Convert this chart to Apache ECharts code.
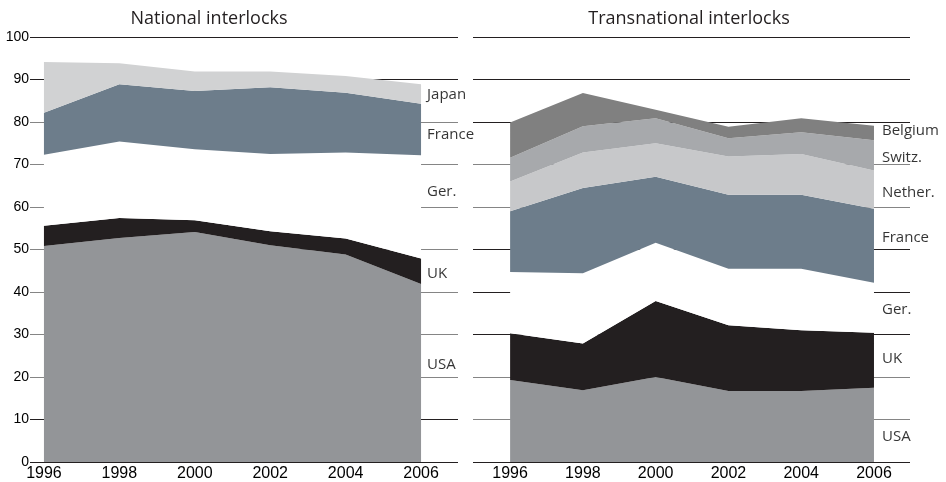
<!DOCTYPE html>
<html><head><meta charset="utf-8">
<script src="https://cdn.jsdelivr.net/npm/echarts@6/dist/echarts.min.js"></script>
<style>html,body{margin:0;padding:0;background:#fff}#c{width:946px;height:482px}</style>
</head><body><div id="c"></div>
<script>
// ---- data ----
const years = [1996, 1998, 2000, 2002, 2004, 2006];
const yTicks = [0, 10, 20, 30, 40, 50, 60, 70, 80, 90, 100];

// National interlocks (stacked, bottom to top)
const natNames = ['USA', 'UK', 'Ger.', 'France', 'Japan'];
const natUSA    = [50.8, 52.7, 54.1, 51.0, 48.8, 41.9];
const natUK     = [4.8, 4.7, 2.8, 3.3, 3.8, 6.0];
const natGer    = [16.7, 18.0, 16.7, 18.2, 20.2, 24.3];
const natFrance = [9.9, 13.5, 13.7, 15.7, 14.1, 12.1];
const natJapan  = [11.9, 4.9, 4.6, 3.7, 3.9, 4.6];
const natLabelAt = [23, 44.4, 63.6, 77, 86.4];

// Transnational interlocks (stacked, bottom to top)
const trNames = ['USA', 'UK', 'Ger.', 'France', 'Nether.', 'Switz.', 'Belgium'];
const trUSA     = [19.3, 16.9, 20.0, 16.7, 16.7, 17.5];
const trUK      = [11.0, 11.0, 17.9, 15.5, 14.3, 12.9];
const trGer     = [14.4, 16.5, 13.7, 13.3, 14.5, 11.8];
const trFrance  = [14.3, 20.1, 15.5, 17.4, 17.4, 17.4];
const trNether  = [7.0, 8.3, 7.9, 9.0, 9.6, 9.0];
const trSwitz   = [5.6, 6.2, 5.9, 4.3, 5.1, 7.1];
const trBelgium = [8.3, 7.8, 2.0, 2.7, 3.3, 3.4];
const trLabelAt = [5.9, 24.4, 35.9, 52.8, 63.4, 71.6, 77.9];

// ---- style ----
const C = {USA:'#939598', UK:'#231f20', 'Ger.':'#ffffff', France:'#6d7d8b', Japan:'#d1d2d3',
           'Nether.':'#c7c8ca', 'Switz.':'#a7a9ac', Belgium:'#808080'};
const K = '#231f20', G = '#858585';
const natLineColors = [K, K, G, G, G, G, G, G, G, K, K];
const trLineColors  = [K, G, G, K, K, K, G, G, K, K, K];
const tickFont = 'Liberation Sans, Arial, sans-serif';
const textFont = 'Open Sans, Noto Sans, sans-serif';

const chart = echarts.init(document.getElementById('c'));

function areaSeries(names, arrays, idx, stack) {
  return names.map((n, k) => ({
    type: 'line', name: n, stack: stack, xAxisIndex: idx, yAxisIndex: idx,
    symbol: 'none', silent: true,
    encode: {x: 1, y: 0},
    lineStyle: {width: 0}, areaStyle: {color: C[n], opacity: 1},
    data: years.map((y, i) => [arrays[k][i], y])
  }));
}
function labelSeries(names, at, idx, dist) {
  return {
    type: 'scatter', xAxisIndex: idx, yAxisIndex: idx, symbolSize: 0, silent: true, z: 5,
    label: {show: true, position: 'right', distance: dist, formatter: '{b}',
            color: '#000', fontSize: 15, fontFamily: textFont},
    data: names.map((n, k) => ({name: n, value: [years[years.length - 1], at[k]]}))
  };
}
function yAxis(idx, showLabels, colors) {
  return {
    type: 'value', gridIndex: idx, min: 0, max: 100, interval: 10,
    axisLine: {show: false}, axisTick: {show: false},
    axisLabel: {show: showLabels, color: '#000', fontSize: 14, fontFamily: tickFont, margin: 1},
    splitLine: {show: true, lineStyle: {color: colors, width: 1}}
  };
}
function xAxis(idx, min, max) {
  return {
    type: 'value', gridIndex: idx, min: min, max: max,
    axisLine: {show: false}, axisTick: {show: false}, splitLine: {show: false},
    axisLabel: {customValues: years, formatter: v => String(v), color: '#000', fontSize: 16,
                fontFamily: tickFont, margin: 4}
  };
}

chart.setOption({
  animation: false,
  backgroundColor: '#fff',
  title: [
    {text: 'National interlocks', left: 204, top: 5, textAlign: 'center',
     textStyle: {fontSize: 18, fontWeight: 'normal', color: '#231f20', fontFamily: textFont}},
    {text: 'Transnational interlocks', left: 684, top: 5, textAlign: 'center',
     textStyle: {fontSize: 18, fontWeight: 'normal', color: '#231f20', fontFamily: textFont}}
  ],
  grid: [
    {left: 30, top: 37, width: 428, height: 426},
    {left: 473, top: 37, width: 437, height: 426}
  ],
  xAxis: [xAxis(0, 1995.63, 2006.98), xAxis(1, 1994.98, 2006.99)],
  yAxis: [yAxis(0, true, natLineColors), yAxis(1, false, trLineColors)],
  series: [
    ...areaSeries(natNames, [natUSA, natUK, natGer, natFrance, natJapan], 0, 'nat'),
    ...areaSeries(trNames, [trUSA, trUK, trGer, trFrance, trNether, trSwitz, trBelgium], 1, 'tr'),
    labelSeries(natNames, natLabelAt, 0, 6),
    labelSeries(trNames, trLabelAt, 1, 8)
  ]
});
</script></body></html>
